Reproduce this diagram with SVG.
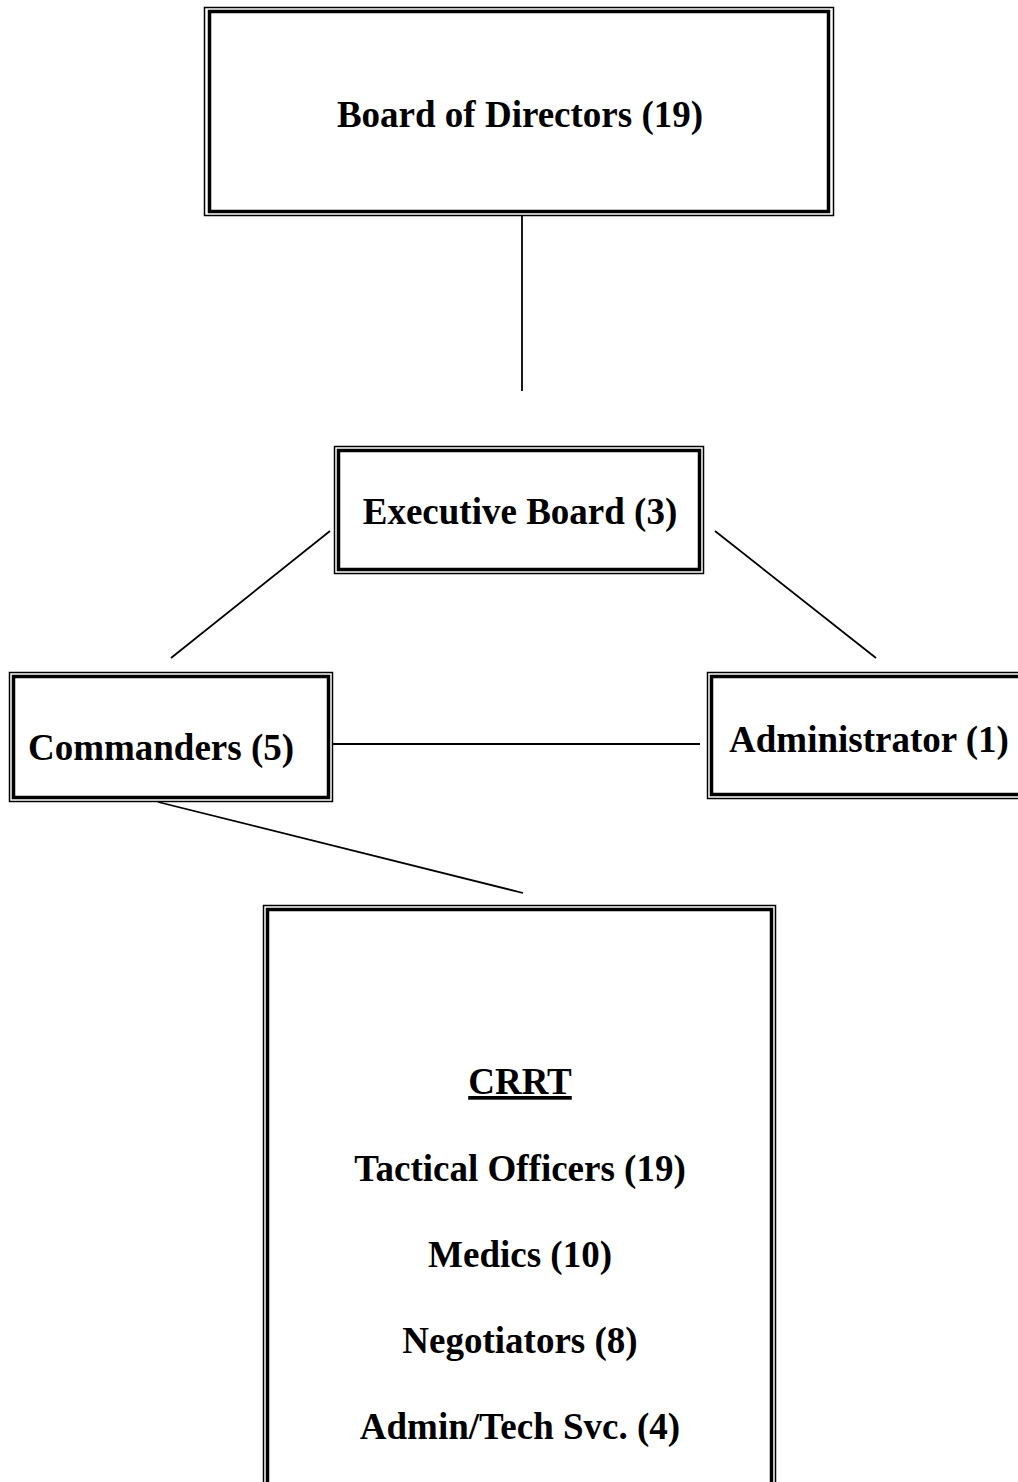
<svg xmlns="http://www.w3.org/2000/svg" width="1018" height="1482" viewBox="0 0 1018 1482">
<style>
.outer{fill:none;stroke:#000;stroke-width:1.5}
.inner{fill:none;stroke:#000;stroke-width:3.5}
.lbl{font-family:"Liberation Serif","Times New Roman",serif;font-weight:bold;font-size:37px;fill:#000;text-anchor:middle}
.conn{stroke:#000;stroke-width:1.8;fill:none}
</style>
<rect width="1018" height="1482" fill="#fff"/>
<g id="connectors">
<line class="conn" x1="522" y1="216" x2="522" y2="391"/>
<line class="conn" x1="330" y1="531" x2="171" y2="658"/>
<line class="conn" x1="715" y1="531" x2="876" y2="658"/>
<line class="conn" x1="333" y1="744" x2="700" y2="744"/>
<line class="conn" x1="158" y1="802" x2="523" y2="893"/>
</g>
<g id="board">
<rect class="outer" x="204.5" y="7.5" width="629" height="208"/>
<rect class="inner" x="209.5" y="11.5" width="619" height="200"/>
<text class="lbl" x="520" y="127">Board of Directors (19)</text>
</g>
<g id="executive">
<rect class="outer" x="334.5" y="446.5" width="369" height="127"/>
<rect class="inner" x="338.5" y="450.5" width="361" height="119"/>
<text class="lbl" x="520" y="524">Executive Board (3)</text>
</g>
<g id="commanders">
<rect class="outer" x="9.5" y="672.5" width="323" height="129"/>
<rect class="inner" x="13.5" y="676.5" width="315" height="121"/>
<text class="lbl" x="161" y="760">Commanders (5)</text>
</g>
<g id="administrator">
<rect class="outer" x="707.5" y="672.5" width="330" height="126"/>
<rect class="inner" x="711.5" y="676.5" width="322" height="118"/>
<text class="lbl" x="869" y="752">Administrator (1)</text>
</g>
<g id="crrt">
<rect class="outer" x="263.5" y="905.5" width="512" height="600"/>
<rect class="inner" x="267.5" y="909.5" width="504" height="592"/>
<text class="lbl" x="520" y="1094" text-decoration="underline">CRRT</text>
<text class="lbl" x="520" y="1181">Tactical Officers (19)</text>
<text class="lbl" x="520" y="1267">Medics (10)</text>
<text class="lbl" x="520" y="1353">Negotiators (8)</text>
<text class="lbl" x="520" y="1439">Admin/Tech Svc. (4)</text>
</g>
</svg>
